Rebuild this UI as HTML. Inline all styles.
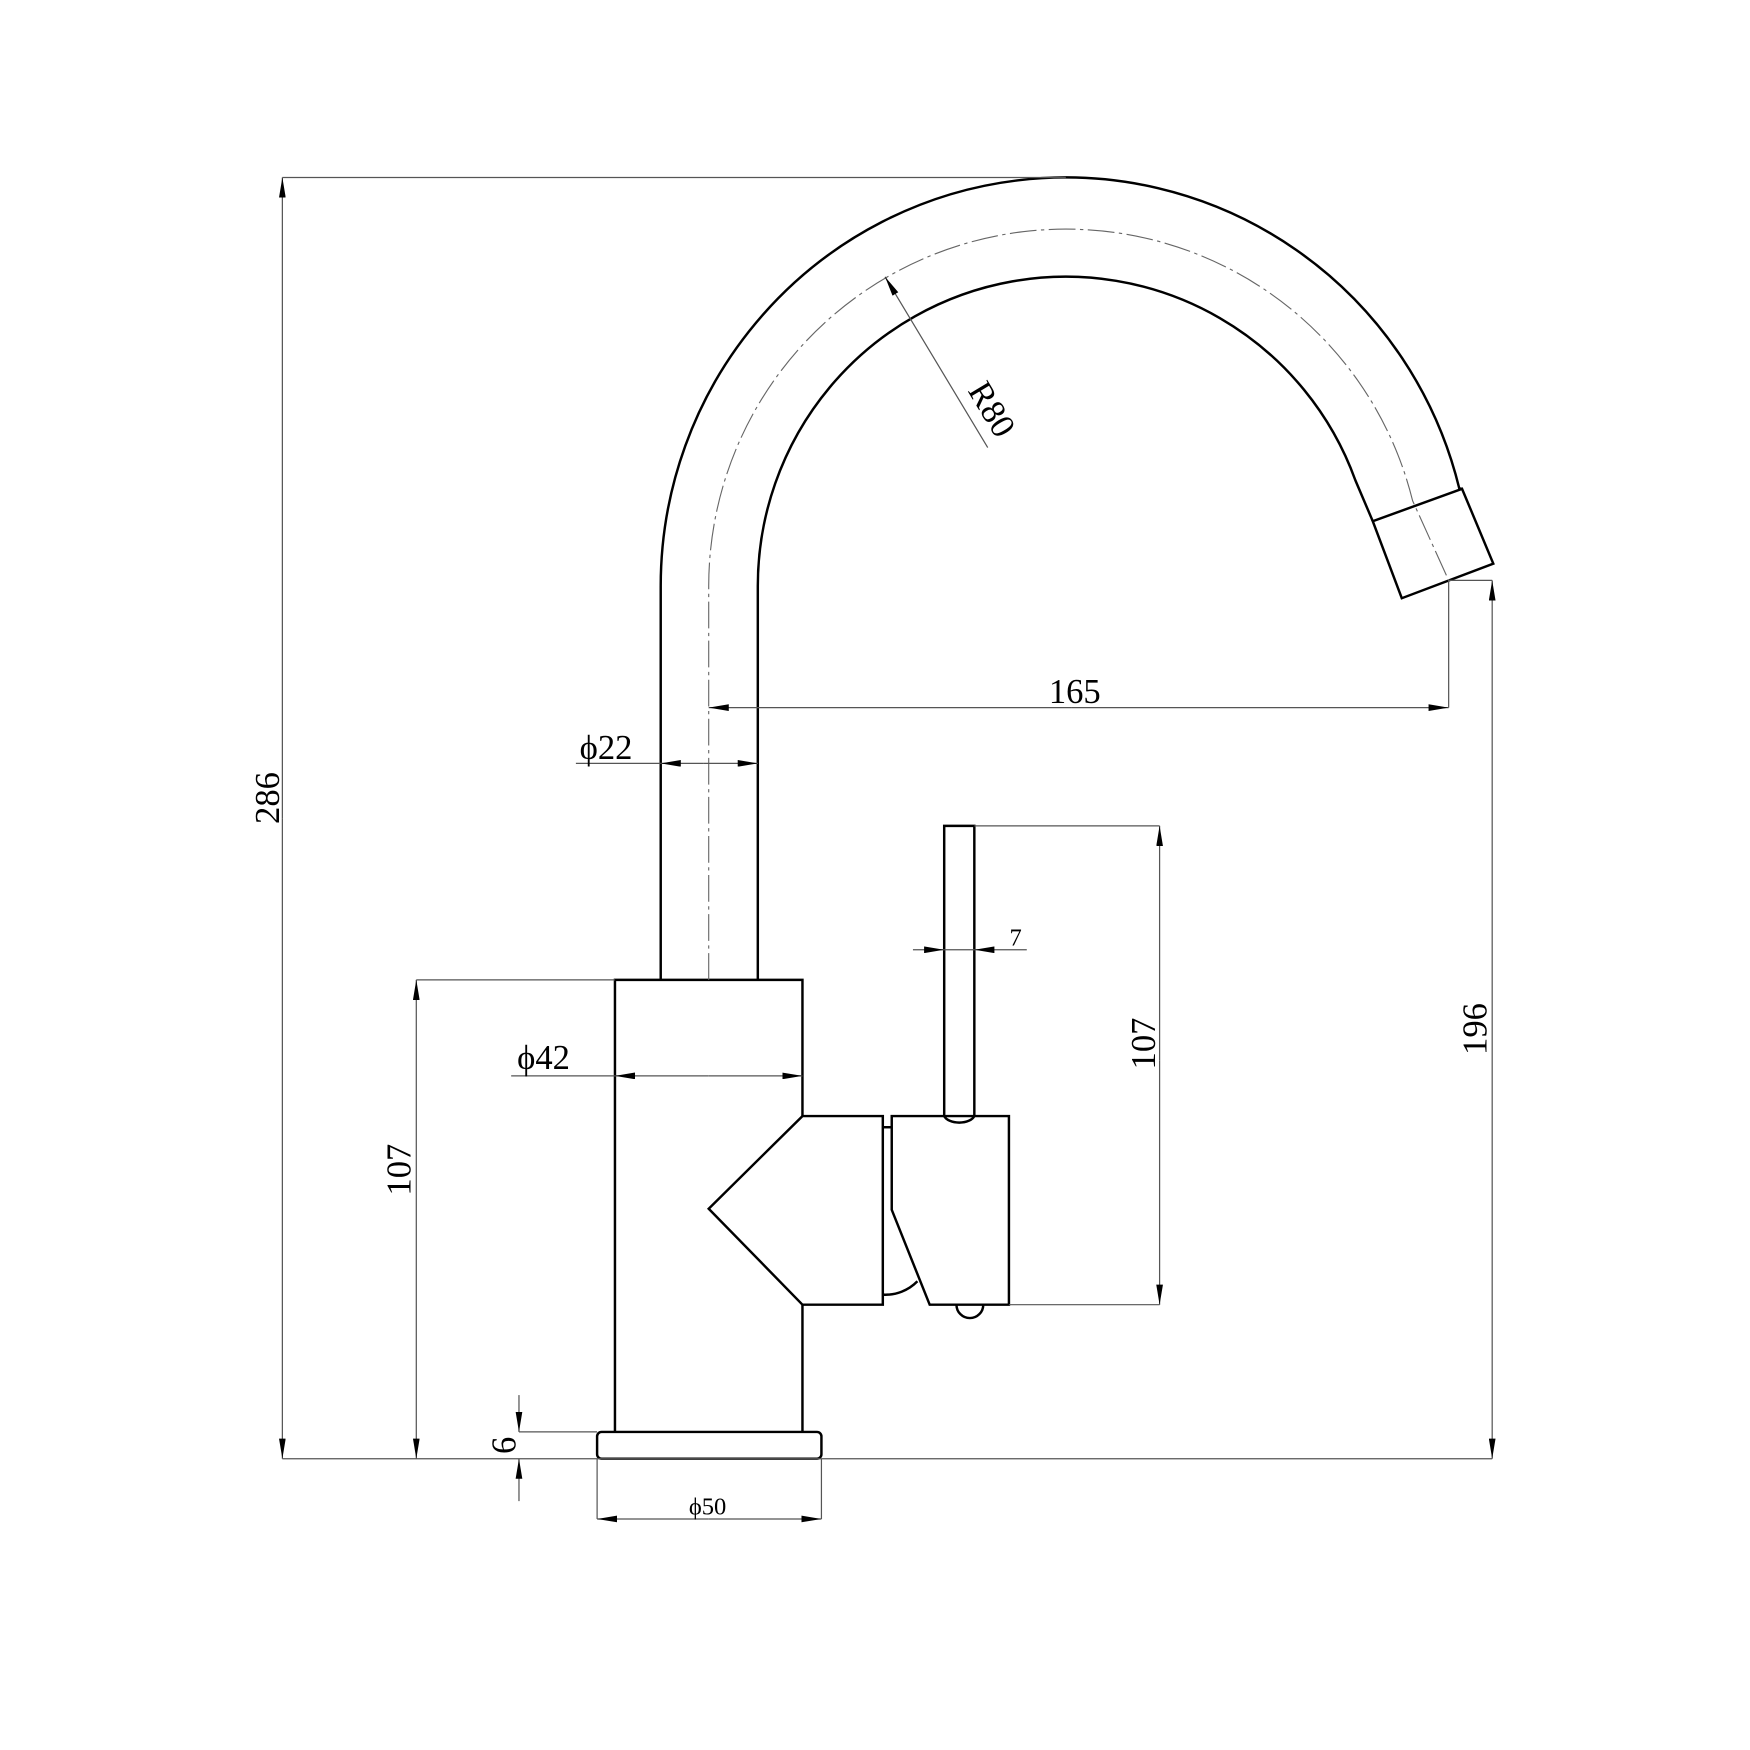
<!DOCTYPE html>
<html><head><meta charset="utf-8"><style>html,body{margin:0;padding:0;background:#fff}svg{display:block}</style></head>
<body>
<svg width="1750" height="1750" viewBox="0 0 1568 1568" xmlns="http://www.w3.org/2000/svg">
<defs>
<marker id="a" viewBox="0 0 18 6" refX="18" refY="3" markerWidth="18" markerHeight="6" markerUnits="userSpaceOnUse" orient="auto"><path d="M0,0 L18,3 L0,6 Z" fill="#000"/></marker>
</defs>
<g fill="none" stroke="#000" stroke-width="2.2">
<path d="M592,878 L592,525 A363,366 0 0 1 1307.5,437.6 L1310,438"/>
<path d="M679,878 L679,525 A276,277 0 0 1 1214.4,430.3 L1230,467"/>
<path d="M1310,438 L1338,505 L1256,536 L1230,467 Z"/>
<path d="M551,1283 L551,878 L719,878 L719,1000 M719,1169 L719,1283"/>
<rect x="535" y="1283" width="201" height="24" rx="4"/>
<path d="M719,1000 L791,1000 L791,1169 L719,1169 L635,1083 Z"/>
<path d="M799,1000 L904,1000 L904,1169 L833,1169 L799,1084 Z"/>
<path d="M791,1160 A40,40 0 0 0 822,1148"/>
<path d="M791,1010 L799,1010"/>
<path d="M846,1000 L846,740 L873,740 L873,1000 A14,8 0 0 1 846,1000"/>
<path d="M857,1169 A12,12 0 0 0 881,1169"/>
</g>
<path d="M635,878 L635,525 A320,320 0 0 1 1265.7,448.7 L1298,520" fill="none" stroke="#666" stroke-width="1" stroke-dasharray="24,4,3,4"/>
<g stroke="#555" stroke-width="1.1" fill="none">
<line x1="253" y1="159" x2="955" y2="159"/>
<line x1="253" y1="1307" x2="1337" y2="1307"/>
<line x1="253" y1="733" x2="253" y2="159" marker-end="url(#a)"/>
<line x1="253" y1="733" x2="253" y2="1307" marker-end="url(#a)"/>
<line x1="1298" y1="520" x2="1337" y2="520"/>
<line x1="1337" y1="900" x2="1337" y2="520" marker-end="url(#a)"/>
<line x1="1337" y1="900" x2="1337" y2="1307" marker-end="url(#a)"/>
<line x1="1298" y1="520" x2="1298" y2="634"/>
<line x1="960" y1="634" x2="635" y2="634" marker-end="url(#a)"/>
<line x1="960" y1="634" x2="1298" y2="634" marker-end="url(#a)"/>
<line x1="516" y1="684" x2="592" y2="684"/>
<line x1="630" y1="684" x2="592" y2="684" marker-end="url(#a)"/>
<line x1="630" y1="684" x2="679" y2="684" marker-end="url(#a)"/>
<line x1="885" y1="401" x2="793" y2="248" marker-end="url(#a)"/>
<line x1="458" y1="964" x2="551" y2="964"/>
<line x1="635" y1="964" x2="551" y2="964" marker-end="url(#a)"/>
<line x1="635" y1="964" x2="719" y2="964" marker-end="url(#a)"/>
<line x1="373" y1="878" x2="551" y2="878"/>
<line x1="373" y1="1090" x2="373" y2="878" marker-end="url(#a)"/>
<line x1="373" y1="1090" x2="373" y2="1307" marker-end="url(#a)"/>
<line x1="465" y1="1283" x2="535" y2="1283"/>
<line x1="465" y1="1250" x2="465" y2="1283" marker-end="url(#a)"/>
<line x1="465" y1="1345" x2="465" y2="1307" marker-end="url(#a)"/>
<line x1="535" y1="1307" x2="535" y2="1361"/>
<line x1="736" y1="1307" x2="736" y2="1361"/>
<line x1="635" y1="1361" x2="535" y2="1361" marker-end="url(#a)"/>
<line x1="635" y1="1361" x2="736" y2="1361" marker-end="url(#a)"/>
<line x1="873" y1="740" x2="1039" y2="740"/>
<line x1="904" y1="1169" x2="1039" y2="1169"/>
<line x1="1039" y1="950" x2="1039" y2="740" marker-end="url(#a)"/>
<line x1="1039" y1="950" x2="1039" y2="1169" marker-end="url(#a)"/>
<line x1="818" y1="851" x2="846" y2="851" marker-end="url(#a)"/>
<line x1="920" y1="851" x2="873" y2="851" marker-end="url(#a)"/>
<line x1="846" y1="851" x2="873" y2="851"/>
</g>
<g font-family="Liberation Serif, serif" fill="#000" font-size="31">
<text x="240" y="715" text-anchor="middle" transform="rotate(-90 240 715)" dy="10">286</text>
<text x="1322" y="922" text-anchor="middle" transform="rotate(-90 1322 922)" dy="10">196</text>
<text x="963" y="630" text-anchor="middle">165</text>
<text x="543" y="680" text-anchor="middle">ϕ22</text>
<text x="487" y="958" text-anchor="middle">ϕ42</text>
<text x="358" y="1048" text-anchor="middle" transform="rotate(-90 358 1048)" dy="10">107</text>
<text x="1025" y="935" text-anchor="middle" transform="rotate(-90 1025 935)" dy="10">107</text>
<text x="452" y="1295" text-anchor="middle" transform="rotate(-90 452 1295)" dy="10">6</text>
<text x="634" y="1357" text-anchor="middle" font-size="22">ϕ50</text>
<text x="910" y="847" text-anchor="middle" font-size="22">7</text>
<text x="880" y="372" text-anchor="middle" transform="rotate(59 880 372)">R80</text>
</g>
</svg>
</body></html>
